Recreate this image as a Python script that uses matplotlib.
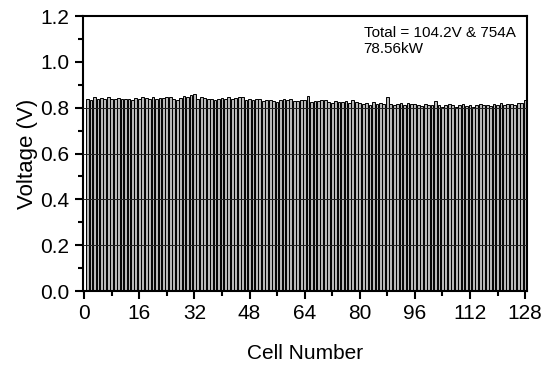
import matplotlib
matplotlib.use("Agg")
import matplotlib.pyplot as plt
import numpy as np

plt.rcParams["font.family"] = ["Liberation Sans", "DejaVu Sans"]

# cell voltages (V) for cells 1..128
cells = np.arange(1, 129)
voltages = [
    0.840, 0.835, 0.845, 0.840, 0.843, 0.838, 0.846, 0.840, 0.837, 0.842, 0.836, 0.840, 0.838, 0.833, 0.841, 0.836,
    0.845, 0.843, 0.838, 0.846, 0.840, 0.844, 0.843, 0.848, 0.845, 0.837, 0.835, 0.842, 0.850, 0.846, 0.855, 0.862,
    0.840, 0.848, 0.842, 0.836, 0.838, 0.833, 0.840, 0.842, 0.836, 0.846, 0.838, 0.843, 0.845, 0.848, 0.835, 0.840,
    0.833, 0.840, 0.836, 0.830, 0.835, 0.832, 0.830, 0.826, 0.833, 0.840, 0.835, 0.836, 0.830, 0.828, 0.834, 0.832,
    0.850, 0.826, 0.830, 0.828, 0.835, 0.832, 0.826, 0.820, 0.830, 0.826, 0.824, 0.830, 0.822, 0.835, 0.826, 0.820,
    0.815, 0.820, 0.812, 0.825, 0.818, 0.820, 0.816, 0.846, 0.815, 0.812, 0.818, 0.820, 0.814, 0.822, 0.816, 0.818,
    0.812, 0.808, 0.815, 0.810, 0.812, 0.830, 0.810, 0.805, 0.812, 0.816, 0.810, 0.804, 0.810, 0.818, 0.806, 0.810,
    0.805, 0.812, 0.816, 0.810, 0.812, 0.808, 0.815, 0.810, 0.820, 0.812, 0.815, 0.818, 0.810, 0.822, 0.820, 0.835,
]
grid_levels = [0.2, 0.4, 0.6, 0.8]
note = "Total = 104.2V & 754A\n78.56kW"

fig = plt.figure(figsize=(5.52, 3.70), dpi=100)
ax = fig.add_axes([0.150, 0.2135, 0.805, 0.743])

ax.bar(cells, voltages, width=0.8, color="#b8b8b8", edgecolor="black", linewidth=0.7, zorder=2)
for lv in grid_levels:
    ax.axhline(lv, color="#222222", linewidth=0.7, zorder=3)

ax.set_xlim(-0.4, 128.6)
ax.set_ylim(0, 1.2)
ax.set_xticks(np.arange(0, 129, 16))
ax.set_xticks(np.arange(8, 129, 16), minor=True)
ax.set_yticks(np.arange(0, 1.21, 0.2))
ax.set_yticks(np.arange(0.1, 1.2, 0.2), minor=True)
ax.yaxis.set_major_formatter(matplotlib.ticker.FormatStrFormatter("%.1f"))
ax.tick_params(which="major", length=6, width=1.5, labelsize=15, direction="out")
ax.tick_params(which="minor", length=3.5, width=1.5, direction="out")
for sp in ax.spines.values():
    sp.set_linewidth(1.5)

ax.set_xlabel("Cell Number", fontsize=15, labelpad=15)
ax.set_ylabel("Voltage (V)", fontsize=16, labelpad=2)
ax.text(0.632, 0.965, note, transform=ax.transAxes, fontsize=11, va="top", ha="left", linespacing=1.25)

fig.savefig("out.png", dpi=100)
